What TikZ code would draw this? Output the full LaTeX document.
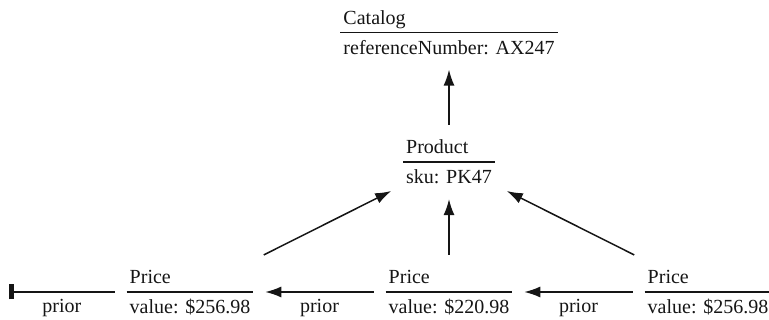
\documentclass[tikz,border=0pt]{standalone}
\usepackage{fontspec}
\setmainfont{Liberation Serif}
\usetikzlibrary{arrows.meta}
\definecolor{umlink}{HTML}{151515}
\newcommand{\umlobj}[2]{{\renewcommand{\arraystretch}{0}\setlength{\arrayrulewidth}{1.3pt}%
  \begin{tabular}{@{\hspace{3pt}}l@{\hspace{3pt}}}#1\rule[-7.5pt]{0pt}{24.45pt}\\\hline\rule[-3.45pt]{0pt}{24.45pt}#2\end{tabular}}}

\begin{document}
\begin{tikzpicture}[x=1pt, y=-1pt, font=\fontsize{20}{24}\selectfont, >=Latex]
  \tikzset{obj/.style={inner sep=0, outer sep=12pt, text=umlink},
           link/.style={draw=umlink, line width=1.5pt, -{Latex[length=16pt, width=11pt]}},
           endbar/.style={draw=umlink, line width=1.5pt, -{Bar[width=15pt, line width=4.5pt]}},
           priorlab/.style={midway, below=4pt, inner sep=3pt, text=umlink}}
  \useasboundingbox (0,0) rectangle (769,320);
  % objects
  \node[obj] (cat) at (449,32.5) {\umlobj{Catalog}{referenceNumber: AX247}};
  \node[obj] (prod) at (449,162) {\umlobj{Product}{sku: PK47}};
  \node[obj] (pl) at (190,292) {\umlobj{Price}{value: \$256.98}};
  \node[obj] (pm) at (449,292) {\umlobj{Price}{value: \$220.98}};
  \node[obj] (pr) at (708,292) {\umlobj{Price}{value: \$256.98}};
  \coordinate (first) at (9,292);
  % links
  \draw[link] (prod) -- (cat);
  \draw[link] (pl) -- (prod);
  \draw[link] (pm) -- (prod);
  \draw[link] (pr) -- (prod);
  % prior chain
  \draw[link] (pr.west) -- (pm.east) node[priorlab] (p2) {prior};
  \draw[link] (pm.west) -- (pl.east) node[priorlab] (p1) {prior};
  \draw[endbar] (pl.west) -- (first) node[priorlab] (p0) {prior};
\end{tikzpicture}
\end{document}
